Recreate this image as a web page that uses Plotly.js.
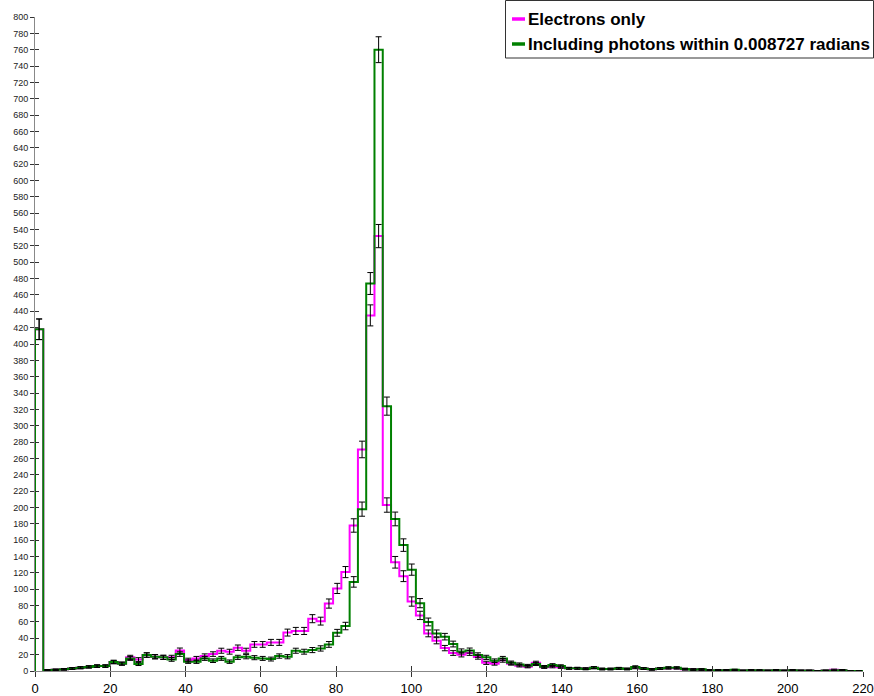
<!DOCTYPE html>
<html>
<head>
<meta charset="utf-8">
<script src="https://cdn.plot.ly/plotly-3.0.1.min.js"></script>
<style>
  html, body { margin: 0; padding: 0; background: #fff; }
  #chart { width: 874px; height: 696px; }
</style>
</head>
<body>
<div id="chart"></div>
<script>
// Histogram binning (100 bins of width 2.2 from 0 to 220)
const binWidth = 2.2;
const nBins = 100;

const seriesNames = ["Electrons only", "Including photons within 0.008727 radians"];

// Electrons only (magenta)
const electronsOnly = [
  418,1,1.5,2,3,4,5,6,6,11,
  9,16.7,14,19.5,17.5,16.7,16.7,25,13.4,15.4,
  18.3,20.7,24.8,23.6,28.5,24.8,32.5,32.5,35,35,
  47,49,49,64,61,82.5,101,121,178,271,
  435,532,203,133,116,85,68,46,37,28,
  22,20,22,17,10,9,13,9,6.5,5.3,
  10,4.5,5.3,4.5,3.3,3.3,3,4,2.5,2.5,
  3,2.5,4,3,2,3,3.5,3.5,2,2,
  1.5,1,1,1,1,0.5,1,0.5,0.5,1,
  0.5,1,0.5,0.5,0,0.5,1.5,1,0,0
];
const electronsOnlyErr = [
  12.6,0.62,0.75,0.87,1.07,1.23,1.38,1.51,1.51,2.04,
  1.85,2.52,2.31,2.72,2.58,2.52,2.52,3.08,2.26,2.42,
  2.64,2.8,3.07,2.99,3.29,3.07,3.51,3.51,3.65,3.65,
  4.23,4.32,4.32,4.93,4.81,5.6,6.2,6.78,8.22,10.15,
  12.86,14.2,8.78,7.1,6.64,5.68,5.08,4.18,3.75,3.26,
  2.89,2.76,2.89,2.54,1.95,1.85,2.22,1.85,1.57,1.42,
  1.95,1.31,1.42,1.31,1.12,1.12,1.07,1.23,0.97,0.97,
  1.07,0.97,1.23,1.07,0.87,1.07,1.15,1.15,0.87,0.87,
  0.75,0.62,0.62,0.62,0.62,0.44,0.62,0.44,0.44,0.62,
  0.44,0.62,0.44,0.44,0,0.44,0.75,0.62,0,0
];

// Including photons (green)
const withPhotons = [
  418,1,1.5,2,3,4,5,6,6,11,
  9,15.4,8.5,19.5,17.5,16.7,14.2,20.7,11.4,11.4,
  15.4,12.6,15.4,11.4,16.7,17.5,16.3,15.4,14.6,18.3,
  17.5,24.8,23.6,25.6,27.6,32.5,46.7,55,109,198,
  474,760,324,186,154,124,83,60,46,42,
  33,24,25,19.5,16.7,12.6,15.4,10.2,8.1,6.5,
  8.5,5.3,7.3,6.1,3.3,3.3,2.4,4.1,2.4,2.4,
  3.3,2.5,5,3,2,3,4,4,2.5,1.5,
  2,1,1,1,1.5,0.5,1,1,0.5,1,
  0.5,1,0.5,0.5,0,0.5,0.5,1,0,0
];
const withPhotonsErr = [
  12.6,0.62,0.75,0.87,1.07,1.23,1.38,1.51,1.51,2.04,
  1.85,2.42,1.8,2.72,2.58,2.52,2.32,2.8,2.08,2.08,
  2.42,2.19,2.42,2.08,2.52,2.58,2.49,2.42,2.36,2.64,
  2.58,3.07,2.99,3.12,3.24,3.51,4.21,4.57,6.44,8.67,
  13.4,15.8,11.1,8.4,7.65,6.86,5.62,4.77,4.18,4.0,
  3.54,3.02,3.08,2.72,2.52,2.19,2.42,1.97,1.75,1.57,
  1.8,1.42,1.67,1.52,1.12,1.12,0.95,1.25,0.95,0.95,
  1.12,0.97,1.38,1.07,0.87,1.07,1.23,1.23,0.97,0.75,
  0.87,0.62,0.62,0.62,0.75,0.44,0.62,0.62,0.44,0.62,
  0.44,0.62,0.44,0.44,0,0.44,0.44,0.62,0,0
];

// Axis ticks
const xTickVals = [0,20,40,60,80,100,120,140,160,180,200,220];
const yTickVals = [];
for (let v = 0; v <= 800; v += 20) yTickVals.push(v);

const magenta = "#ff00ff";
const green = "#008000";

// Derived bin geometry
const edges = [];
for (let i = 0; i <= nBins; i++) edges.push(+(i * binWidth).toFixed(4));
const centers = [];
for (let i = 0; i < nBins; i++) centers.push(+((i + 0.5) * binWidth).toFixed(4));

function stepTrace(vals, color, name) {
  const xs = [edges[0]].concat(edges);
  const ys = [0].concat(vals).concat([vals[vals.length - 1]]);
  return {
    type: "scatter", mode: "lines", x: xs, y: ys, name: name,
    line: { color: color, width: 2, shape: "hv" },
    showlegend: false, hoverinfo: "skip"
  };
}
function errTrace(vals, errs) {
  return {
    type: "scatter", mode: "markers", x: centers, y: vals,
    marker: { size: 1, color: "rgba(0,0,0,0)" },
    error_y: { type: "data", array: errs, visible: true, color: "#000", thickness: 1, width: 3 },
    showlegend: false, hoverinfo: "skip"
  };
}

const traces = [
  stepTrace(electronsOnly, magenta, seriesNames[0]),
  stepTrace(withPhotons, green, seriesNames[1]),
  errTrace(electronsOnly, electronsOnlyErr),
  errTrace(withPhotons, withPhotonsErr),
  { type: "scatter", mode: "markers", x: [], y: [], xaxis: "x2", yaxis: "y2", showlegend: false, hoverinfo: "skip" }
];

const font = "Liberation Sans, Arial, sans-serif";
const axCommon = { showgrid: false, zeroline: false, automargin: false, fixedrange: true };

// Legend box geometry (paper coords)
const plotL = 35, plotR = 863, plotT = 17, plotB = 671;
const px2x = p => (p - plotL) / (plotR - plotL);
const py2y = p => (plotB - p) / (plotB - plotT);

const layout = {
  width: 874, height: 696,
  margin: { l: plotL, r: 874 - plotR, t: plotT, b: 696 - plotB, pad: 0 },
  paper_bgcolor: "#fff", plot_bgcolor: "#fff",
  showlegend: false,
  hovermode: false,
  xaxis: Object.assign({}, axCommon, {
    range: [0, 220], tickmode: "array", tickvals: xTickVals,
    ticks: "outside", ticklen: 5, tickwidth: 1, tickcolor: "#333",
    showline: true, linecolor: "#888", linewidth: 1,
    tickfont: { family: font, size: 13, color: "#000" }
  }),
  yaxis: Object.assign({}, axCommon, {
    range: [0, 800], tickmode: "array", tickvals: yTickVals,
    ticks: "outside", ticklen: 4, tickwidth: 1, tickcolor: "#333",
    showline: true, linecolor: "#888", linewidth: 1,
    tickfont: { family: font, size: 9, color: "#222" }
  }),
  xaxis2: Object.assign({}, axCommon, {
    overlaying: "x", anchor: "y", side: "bottom", range: [0, 220],
    tickmode: "array", tickvals: xTickVals, ticks: "inside", ticklen: 5,
    tickwidth: 1, tickcolor: "#333", showticklabels: false, showline: false
  }),
  yaxis2: Object.assign({}, axCommon, {
    overlaying: "y", anchor: "x", side: "left", range: [0, 800],
    tickmode: "array", tickvals: yTickVals, ticks: "inside", ticklen: 4,
    tickwidth: 1, tickcolor: "#333", showticklabels: false, showline: false
  }),
  shapes: [
    { type: "rect", xref: "paper", yref: "paper",
      x0: px2x(505.5), x1: px2x(873.5), y0: py2y(58), y1: py2y(0.5),
      line: { color: "#333", width: 1 }, fillcolor: "#fff", layer: "above" },
    { type: "line", xref: "paper", yref: "paper",
      x0: px2x(512), x1: px2x(525), y0: py2y(19), y1: py2y(19),
      line: { color: magenta, width: 3.5 }, layer: "above" },
    { type: "line", xref: "paper", yref: "paper",
      x0: px2x(512), x1: px2x(525), y0: py2y(44), y1: py2y(44),
      line: { color: green, width: 3.5 }, layer: "above" }
  ],
  annotations: [
    { xref: "paper", yref: "paper", x: px2x(526), y: py2y(19.5), xanchor: "left", yanchor: "middle",
      showarrow: false, text: "<b>" + seriesNames[0] + "</b>",
      font: { family: font, size: 17, color: "#000" } },
    { xref: "paper", yref: "paper", x: px2x(526), y: py2y(44.5), xanchor: "left", yanchor: "middle",
      showarrow: false, text: "<b>" + seriesNames[1] + "</b>",
      font: { family: font, size: 17, color: "#000" } }
  ]
};

Plotly.newPlot("chart", traces, layout, { staticPlot: true, displayModeBar: false });
</script>
</body>
</html>
